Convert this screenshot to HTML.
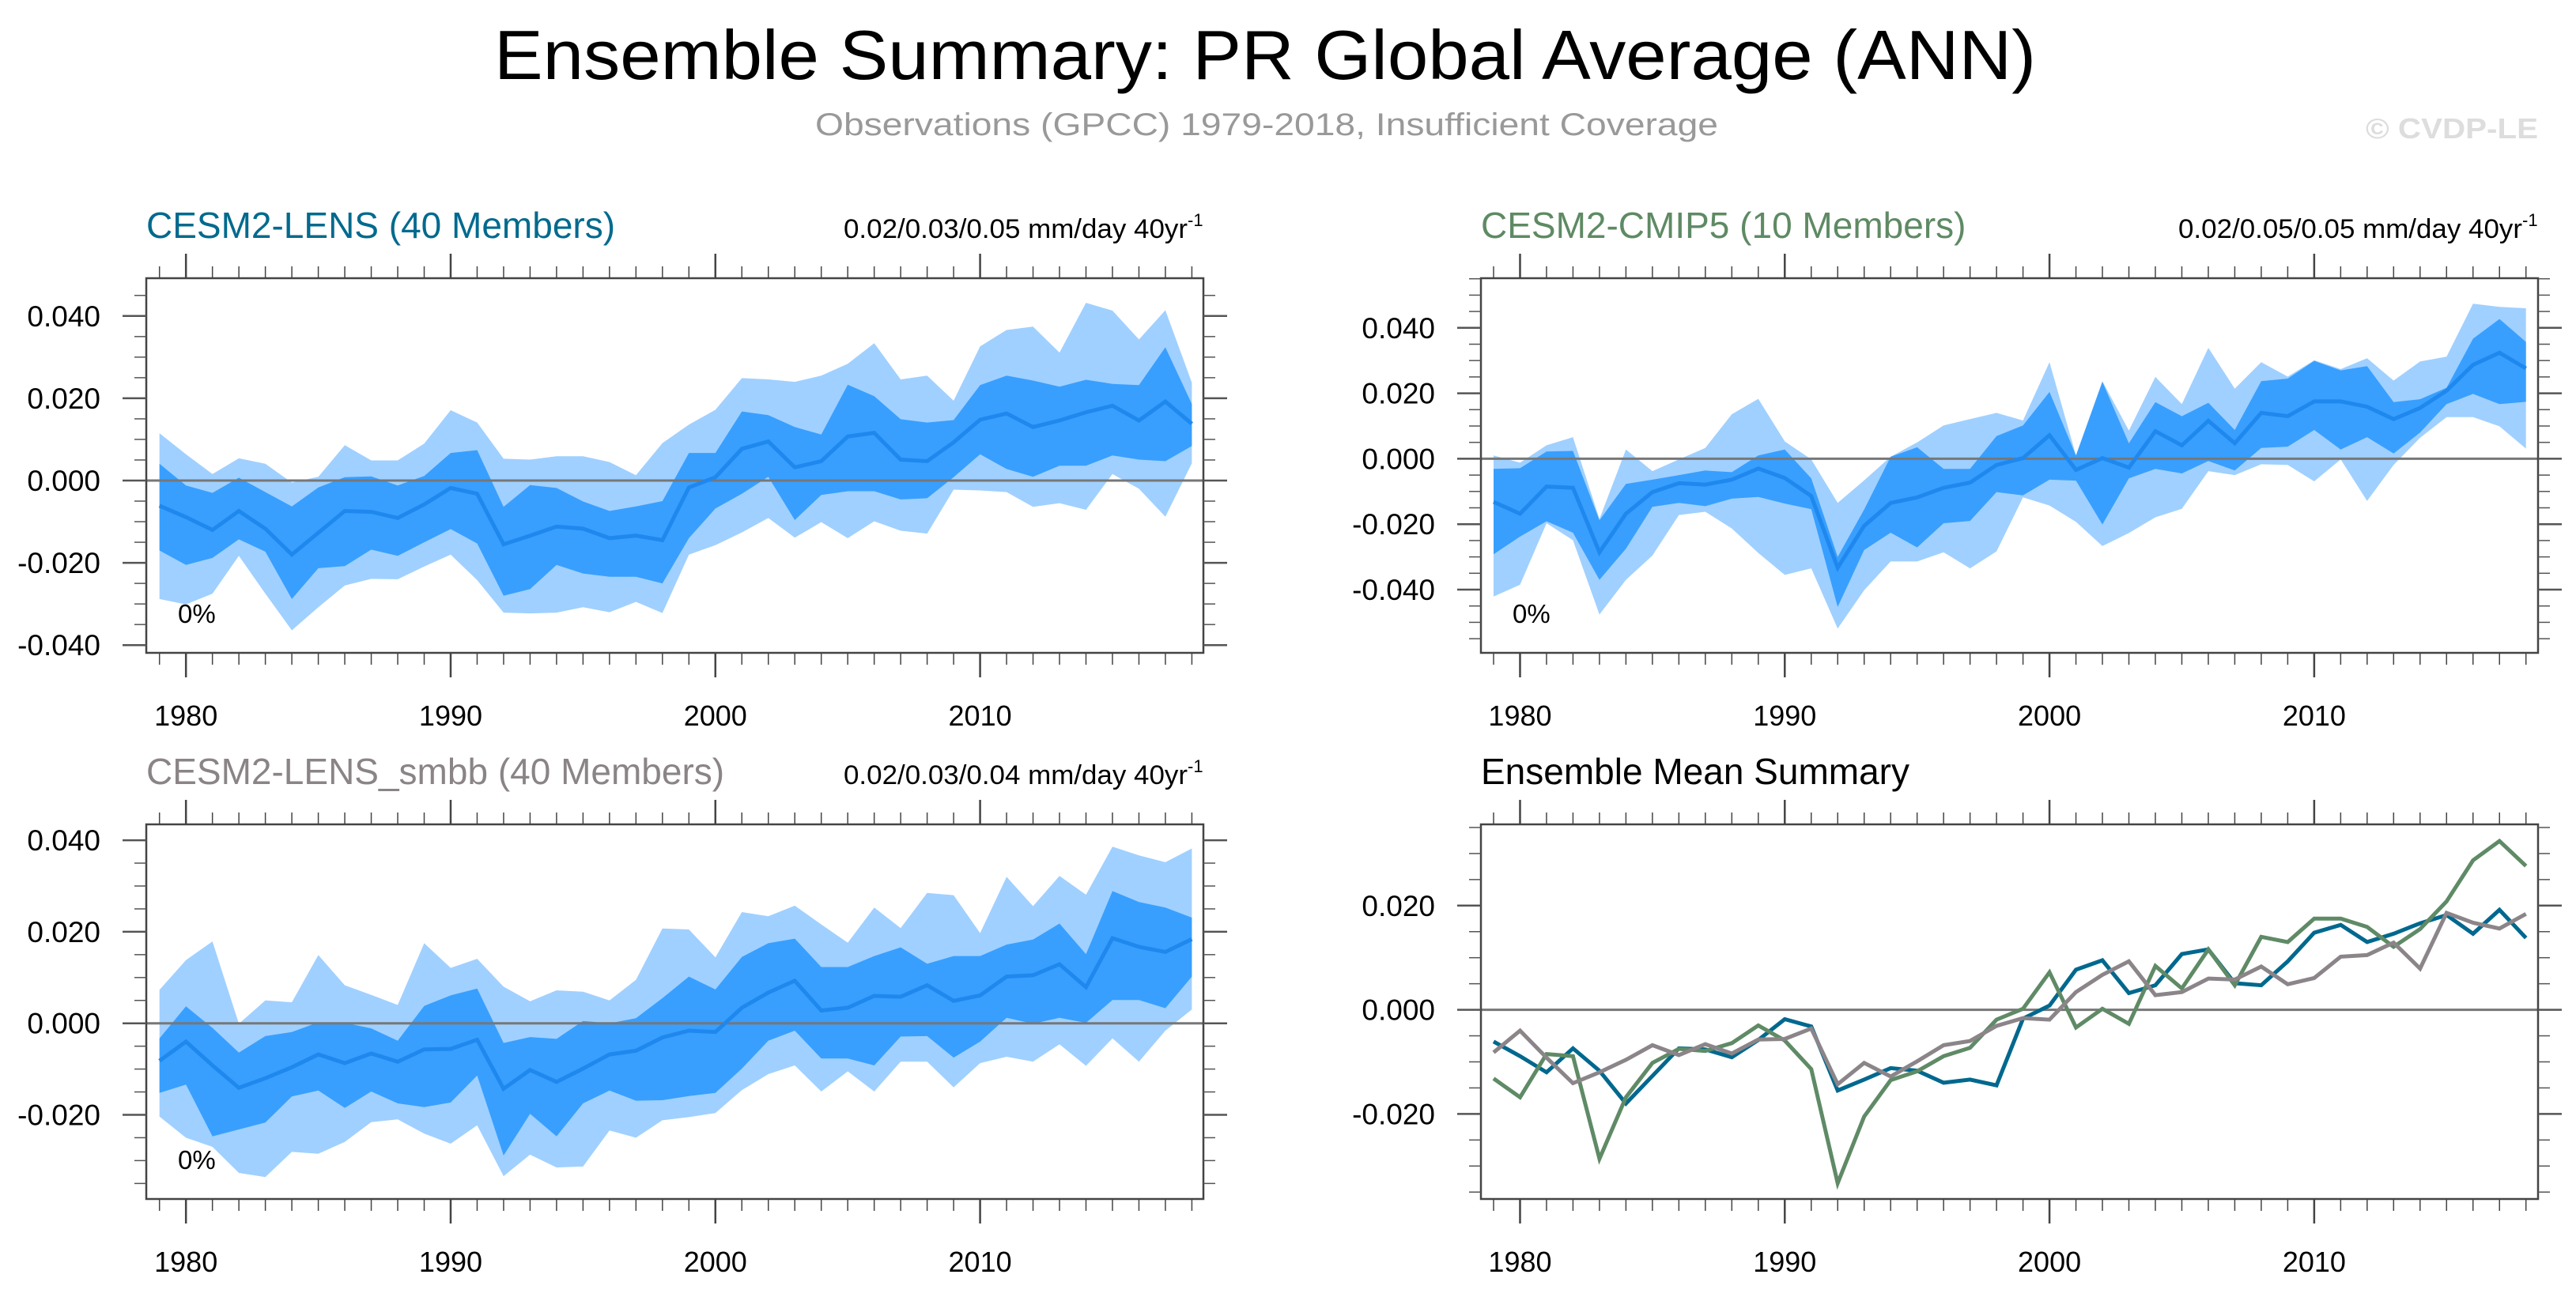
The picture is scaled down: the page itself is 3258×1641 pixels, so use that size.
<!DOCTYPE html>
<html><head><meta charset="utf-8">
<style>
html,body{margin:0;padding:0;background:#fff;}
svg{display:block;font-family:"Liberation Sans",Arial,sans-serif;}
</style></head>
<body>
<svg id="fig" xmlns="http://www.w3.org/2000/svg" width="3258" height="1641" viewBox="0 0 3258 1641">
<rect width="3258" height="1641" fill="#fff"/>
<text x="1600" y="100" font-size="88" text-anchor="middle" textLength="1950" lengthAdjust="spacingAndGlyphs" fill="#000">Ensemble Summary: PR Global Average (ANN)</text>
<text x="1602" y="171" font-size="40" text-anchor="middle" textLength="1142" lengthAdjust="spacingAndGlyphs" fill="#999">Observations (GPCC) 1979-2018, Insufficient Coverage</text>
<text x="3210" y="175" font-size="36" font-weight="bold" text-anchor="end" textLength="218" lengthAdjust="spacingAndGlyphs" fill="#ddd">© CVDP-LE</text>
<g id="plots"></g>
</svg>
<script>
const years=[1979,1980,1981,1982,1983,1984,1985,1986,1987,1988,1989,1990,1991,1992,1993,1994,1995,1996,1997,1998,1999,2000,2001,2002,2003,2004,2005,2006,2007,2008,2009,2010,2011,2012,2013,2014,2015,2016,2017,2018];
const xTickYears=[1980,1990,2000,2010];

const lensMean=[-0.0061,-0.0089,-0.0120,-0.0074,-0.0117,-0.0180,-0.0127,-0.0074,-0.0076,-0.0091,-0.0058,-0.0018,-0.0032,-0.0155,-0.0134,-0.0112,-0.0117,-0.0140,-0.0134,-0.0145,-0.0017,0.0008,0.0077,0.0095,0.0032,0.0047,0.0107,0.0116,0.0051,0.0047,0.0093,0.0148,0.0163,0.0130,0.0146,0.0166,0.0182,0.0146,0.0192,0.0138];
const lensDarkUp=[0.0041,-0.0012,-0.0030,0.0007,-0.0028,-0.0063,-0.0017,0.0008,0.0010,-0.0012,0.0011,0.0067,0.0074,-0.0064,-0.0011,-0.0018,-0.0051,-0.0074,-0.0063,-0.0050,0.0067,0.0067,0.0168,0.0159,0.0130,0.0112,0.0233,0.0205,0.0149,0.0141,0.0147,0.0232,0.0255,0.0243,0.0228,0.0245,0.0235,0.0232,0.0324,0.0186];
const lensDarkLo=[-0.0170,-0.0205,-0.0188,-0.0143,-0.0173,-0.0288,-0.0213,-0.0208,-0.0168,-0.0183,-0.0150,-0.0118,-0.0153,-0.0280,-0.0264,-0.0205,-0.0226,-0.0234,-0.0234,-0.0250,-0.0140,-0.0068,-0.0032,0.0009,-0.0096,-0.0035,-0.0026,-0.0026,-0.0046,-0.0043,0.0008,0.0064,0.0028,0.0009,0.0036,0.0036,0.0061,0.0051,0.0047,0.0084];
const lensLightUp=[0.0115,0.0064,0.0016,0.0054,0.0041,-0.0005,0.0009,0.0086,0.0049,0.0049,0.0090,0.0171,0.0141,0.0053,0.0051,0.0059,0.0059,0.0045,0.0013,0.0091,0.0136,0.0172,0.0249,0.0246,0.0240,0.0255,0.0284,0.0334,0.0246,0.0255,0.0194,0.0326,0.0366,0.0374,0.0311,0.0432,0.0413,0.0343,0.0414,0.0238];
const lensLightLo=[-0.0288,-0.0301,-0.0275,-0.0183,-0.0275,-0.0364,-0.0308,-0.0255,-0.0239,-0.0240,-0.0209,-0.0180,-0.0242,-0.0321,-0.0323,-0.0321,-0.0308,-0.0320,-0.0295,-0.0322,-0.0180,-0.0157,-0.0126,-0.0091,-0.0139,-0.0101,-0.0140,-0.0099,-0.0122,-0.0129,-0.0022,-0.0024,-0.0028,-0.0064,-0.0055,-0.0071,0.0016,-0.0020,-0.0088,0.0042];

const cmipMean=[-0.0132,-0.0168,-0.0085,-0.0089,-0.0286,-0.0168,-0.0102,-0.0075,-0.0079,-0.0064,-0.0030,-0.0059,-0.0114,-0.0333,-0.0205,-0.0135,-0.0118,-0.0089,-0.0073,-0.0019,0.0002,0.0072,-0.0034,0.0002,-0.0027,0.0084,0.0041,0.0116,0.0047,0.0140,0.0130,0.0175,0.0175,0.0159,0.0121,0.0155,0.0208,0.0287,0.0324,0.0276];
const cmipDarkUp=[-0.0031,-0.0029,0.0022,0.0024,-0.0188,-0.0077,-0.0064,-0.0050,-0.0036,-0.0041,0.0010,0.0028,-0.0060,-0.0300,-0.0155,0.0006,0.0035,-0.0031,-0.0031,0.0069,0.0102,0.0204,0.0010,0.0235,0.0047,0.0173,0.0130,0.0171,0.0088,0.0237,0.0245,0.0299,0.0270,0.0283,0.0173,0.0182,0.0217,0.0367,0.0427,0.0357];
const cmipDarkLo=[-0.0292,-0.0238,-0.0191,-0.0226,-0.0370,-0.0275,-0.0147,-0.0135,-0.0145,-0.0122,-0.0117,-0.0137,-0.0154,-0.0453,-0.0279,-0.0226,-0.0271,-0.0197,-0.0190,-0.0102,-0.0112,-0.0064,-0.0067,-0.0201,-0.0060,-0.0031,-0.0045,-0.0007,-0.0036,0.0033,0.0037,0.0088,0.0028,0.0066,0.0016,0.0080,0.0167,0.0198,0.0167,0.0174];
const cmipLightUp=[0.0010,-0.0012,0.0041,0.0066,-0.0184,0.0028,-0.0038,-0.0002,0.0033,0.0136,0.0183,0.0053,-0.0002,-0.0135,-0.0066,0.0006,0.0050,0.0102,0.0121,0.0140,0.0117,0.0295,0.0010,0.0237,0.0086,0.0250,0.0167,0.0339,0.0214,0.0295,0.0251,0.0301,0.0274,0.0307,0.0239,0.0297,0.0312,0.0474,0.0464,0.0460];
const cmipLightLo=[-0.0421,-0.0385,-0.0197,-0.0249,-0.0476,-0.0370,-0.0296,-0.0172,-0.0162,-0.0213,-0.0288,-0.0355,-0.0335,-0.0519,-0.0402,-0.0314,-0.0314,-0.0286,-0.0335,-0.0283,-0.0118,-0.0143,-0.0193,-0.0267,-0.0227,-0.0179,-0.0153,-0.0038,-0.0050,-0.0017,-0.0019,-0.0069,-0.0002,-0.0129,-0.0019,0.0064,0.0127,0.0127,0.0099,0.0031];

const smbbMean=[-0.0082,-0.0040,-0.0092,-0.0141,-0.0120,-0.0096,-0.0068,-0.0087,-0.0066,-0.0084,-0.0057,-0.0056,-0.0036,-0.0143,-0.0102,-0.0128,-0.0099,-0.0068,-0.0060,-0.0031,-0.0016,-0.0019,0.0034,0.0067,0.0093,0.0028,0.0034,0.0060,0.0058,0.0083,0.0049,0.0061,0.0102,0.0105,0.0129,0.0079,0.0186,0.0167,0.0156,0.0184];
const smbbDarkUp=[-0.0033,0.0037,-0.0010,-0.0064,-0.0028,-0.0019,0.0002,0.0001,-0.0011,-0.0038,0.0038,0.0061,0.0076,-0.0043,-0.0030,-0.0034,0.0005,0.0000,0.0011,0.0055,0.0102,0.0074,0.0145,0.0175,0.0185,0.0123,0.0123,0.0147,0.0166,0.0130,0.0147,0.0147,0.0172,0.0183,0.0218,0.0151,0.0289,0.0265,0.0253,0.0231];
const smbbDarkLo=[-0.0152,-0.0134,-0.0247,-0.0232,-0.0217,-0.0160,-0.0147,-0.0185,-0.0149,-0.0175,-0.0183,-0.0173,-0.0114,-0.0289,-0.0198,-0.0247,-0.0175,-0.0147,-0.0169,-0.0168,-0.0159,-0.0152,-0.0099,-0.0038,-0.0016,-0.0077,-0.0077,-0.0092,-0.0029,-0.0028,-0.0075,-0.0040,0.0012,-0.0001,0.0012,0.0001,0.0051,0.0051,0.0033,0.0102];
const smbbLightUp=[0.0073,0.0138,0.0179,-0.0001,0.0050,0.0046,0.0149,0.0083,0.0062,0.0040,0.0175,0.0121,0.0141,0.0080,0.0048,0.0072,0.0069,0.0050,0.0095,0.0207,0.0205,0.0144,0.0243,0.0234,0.0257,0.0216,0.0176,0.0253,0.0208,0.0285,0.0280,0.0197,0.0320,0.0256,0.0322,0.0281,0.0386,0.0367,0.0352,0.0382];
const smbbLightLo=[-0.0204,-0.0250,-0.0270,-0.0327,-0.0336,-0.0281,-0.0285,-0.0259,-0.0216,-0.0210,-0.0241,-0.0263,-0.0223,-0.0334,-0.0287,-0.0315,-0.0313,-0.0234,-0.0250,-0.0212,-0.0205,-0.0196,-0.0146,-0.0111,-0.0092,-0.0149,-0.0105,-0.0149,-0.0084,-0.0084,-0.0140,-0.0087,-0.0073,-0.0084,-0.0046,-0.0093,-0.0033,-0.0084,-0.0016,0.0030];

const yTicks1=[0.04,0.02,0,-0.02,-0.04];
const yTicks2=[0.04,0.02,0,-0.02,-0.04];
const yTicks3=[0.04,0.02,0,-0.02];
const yTicks4=[0.02,0,-0.02];

const NS="http://www.w3.org/2000/svg";
const root=document.getElementById('plots');
function mk(tag,attrs,parent){const e=document.createElementNS(NS,tag);for(const k in attrs)e.setAttribute(k,attrs[k]);(parent||root).appendChild(e);return e;}

function panel(cfg){
  const g=mk('g',{});
  
  
  const X=yr=>cfg.x1979+(yr-1979)*33.48;
  const Y=v=>cfg.zeroY-v*cfg.pxPer*100;
  const L=cfg.left,R=cfg.right,T=cfg.top,B=cfg.bottom;
  const cid='clip-'+cfg.name;
  const cp=mk('clipPath',{id:cid},g);mk('rect',{x:L,y:T,width:R-L,height:B-T},cp);
  const pg=mk('g',{'clip-path':'url(#'+cid+')'},g);
  if(cfg.bands){
    const bands=cfg.bands;
    const poly=(up,lo,col,nm)=>{
      let pts=[];
      years.forEach((y,i)=>pts.push(X(y).toFixed(1)+','+Y(up[i]).toFixed(1)));
      for(let i=years.length-1;i>=0;i--)pts.push(X(years[i]).toFixed(1)+','+Y(lo[i]).toFixed(1));
      const p=mk('polygon',{points:pts.join(' '),fill:col},pg);
      
      
    };
    poly(bands.lu,bands.ll,'#a0d0ff','outer-spread-band');
    poly(bands.du,bands.dl,'#389ffe','inner-spread-band');
  }
  const z=mk('line',{x1:L,x2:R,y1:Y(0),y2:Y(0),stroke:'#777','stroke-width':3},pg);
  
  
  cfg.lines.forEach(ln=>{
    const pts=years.map((y,i)=>X(y).toFixed(1)+','+Y(ln.data[i]).toFixed(1)).join(' ');
    const p=mk('polyline',{points:pts,fill:'none',stroke:ln.color,'stroke-width':ln.w,'stroke-linejoin':'miter'},pg);
    
    
  });
  const fr=mk('rect',{x:L,y:T,width:R-L,height:B-T,fill:'none',stroke:'#444','stroke-width':2.5},g);
  
  
  years.forEach(yr=>{
    const maj=xTickYears.includes(yr);const len=maj?31:15;const x=X(yr);
    mk('line',{x1:x,x2:x,y1:B,y2:B+len,stroke:'#444','stroke-width':maj?2.5:1.5},g);
    mk('line',{x1:x,x2:x,y1:T,y2:T-len,stroke:'#444','stroke-width':maj?2.5:1.5},g);
  });
  xTickYears.forEach(yr=>{
    const t=mk('text',{x:X(yr),y:B+92,'font-size':36,'text-anchor':'middle',fill:'#000'},g);
    t.textContent=yr;
    
    
  });
  const ymin=cfg.ticks[cfg.ticks.length-1]-0.02, ymax=cfg.ticks[0]+0.02;
  for(let v=ymin;v<=ymax+1e-9;v+=0.005){
    const y=Y(v);if(y<T-0.5||y>B+0.5)continue;
    const maj=Math.abs(Math.round(v*50)-v*50)<1e-6;const len=maj?30:15;
    mk('line',{x1:L,x2:L-len,y1:y,y2:y,stroke:'#555','stroke-width':maj?2.5:1.5},g);
    mk('line',{x1:R,x2:R+len,y1:y,y2:y,stroke:'#555','stroke-width':maj?2.5:1.5},g);
  }
  cfg.ticks.forEach(v=>{
    const t=mk('text',{x:L-58,y:Y(v)+13,'font-size':37,'text-anchor':'end',fill:'#000'},g);
    t.textContent=v.toFixed(3);
    
    
  });
  const tt=mk('text',{x:L,y:T-51,'font-size':46,fill:cfg.titleColor},g);
  tt.textContent=cfg.title;
  
  
  if(cfg.trend){
    const a=mk('text',{x:R-455,y:T-51,'font-size':34,fill:'#000'},g);
    
    
    const m=mk('tspan',{textLength:435,lengthAdjust:'spacingAndGlyphs'},a);m.textContent=cfg.trend;
    const s=mk('tspan',{'font-size':22,dy:-15},a);s.textContent='-1';
  }
  if(cfg.bands){
    const p=mk('text',{x:L+40,y:B-38,'font-size':33,fill:'#000'},g);
    p.textContent='0%';
    
    
  }
}

panel({name:'cesm2-lens-panel',left:185,right:1522,top:352,bottom:826,x1979:201.7,zeroY:608,pxPer:52.05,ticks:yTicks1,
  title:'CESM2-LENS (40 Members)',titleColor:'#006a8e',trend:'0.02/0.03/0.05 mm/day 40yr',
  bands:{lu:lensLightUp,ll:lensLightLo,du:lensDarkUp,dl:lensDarkLo},
  lines:[{data:lensMean,color:'#1f88ee',w:5,name:'ensemble-mean-line'}]});
panel({name:'cesm2-cmip5-panel',left:1873,right:3210,top:352,bottom:826,x1979:1889,zeroY:580.4,pxPer:41.4,ticks:yTicks2,
  title:'CESM2-CMIP5 (10 Members)',titleColor:'#5e8a64',trend:'0.02/0.05/0.05 mm/day 40yr',
  bands:{lu:cmipLightUp,ll:cmipLightLo,du:cmipDarkUp,dl:cmipDarkLo},
  lines:[{data:cmipMean,color:'#1f88ee',w:5,name:'ensemble-mean-line'}]});
panel({name:'cesm2-lens-smbb-panel',left:185,right:1522,top:1043,bottom:1517,x1979:201.7,zeroY:1294.7,pxPer:57.9,ticks:yTicks3,
  title:'CESM2-LENS_smbb (40 Members)',titleColor:'#8a8487',trend:'0.02/0.03/0.04 mm/day 40yr',
  bands:{lu:smbbLightUp,ll:smbbLightLo,du:smbbDarkUp,dl:smbbDarkLo},
  lines:[{data:smbbMean,color:'#1f88ee',w:5,name:'ensemble-mean-line'}]});
panel({name:'ensemble-mean-summary-panel',left:1873,right:3210,top:1043,bottom:1517,x1979:1889,zeroY:1277.6,pxPer:65.9,ticks:yTicks4,
  title:'Ensemble Mean Summary',titleColor:'#000',trend:null,bands:null,
  lines:[{data:lensMean,color:'#00688e',w:5,name:'cesm2-lens-mean-line'},
         {data:cmipMean,color:'#5f8a66',w:5,name:'cesm2-cmip5-mean-line'},
         {data:smbbMean,color:'#8b8589',w:5,name:'cesm2-lens-smbb-mean-line'}]});
</script>
</body></html>
